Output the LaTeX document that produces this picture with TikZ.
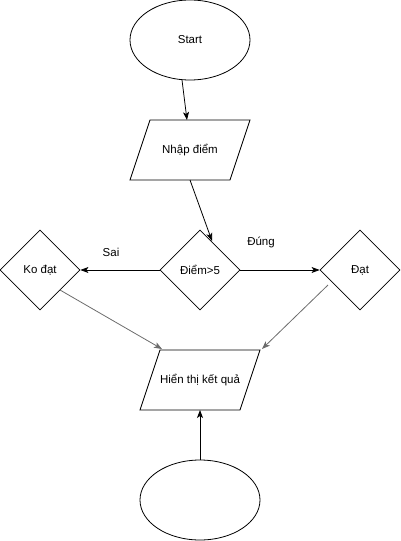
\documentclass[tikz,border=0pt]{standalone}
\usepackage{fontspec}
\setmainfont{Liberation Sans}
\usetikzlibrary{shapes.geometric,arrows.meta}
\begin{document}
\begin{tikzpicture}[x=1pt,y=-1pt,
  every node/.style={font=\fontsize{11.5}{14}\selectfont},
  shp/.style={draw=black,line width=0.8pt},
  oval/.style={shp,ellipse,minimum width=120pt,minimum height=80pt,inner sep=0pt},
  dia/.style={shp,diamond,minimum width=80pt,minimum height=80pt,inner sep=0pt},
  lbl/.style={inner sep=0pt},
  arr/.style={line width=0.8pt,-{Stealth[length=8pt,width=6pt,inset=2pt]}},
  garr/.style={arr,draw=gray!85!black,color=gray!85!black}
]
\useasboundingbox (0,0) rectangle (401,541);
\node[oval] (start) at (190,40) {Start};
\node[lbl] (nhap) at (190,150) {Nhập điểm};
\draw[shp] (150,120) -- (250,120) -- (230,180) -- (130,180) -- cycle;
\node[dia] (diem) at (200,270) {Điểm>5};
\node[dia] (kodat) at (40,270) {Ko đạt};
\node[dia] (dat) at (360,270) {Đạt};
\node[lbl] (hien) at (200,380) {Hiển thị kết quả};
\draw[shp] (160,350) -- (260,350) -- (240,410) -- (140,410) -- cycle;
\node[oval] (end) at (200,500) {};
\node[lbl] (sai) at (111,252) {Sai};
\node[lbl] (dung) at (261,242) {Đúng};
\coordinate (s1) at (182,80);
\coordinate (s2) at (187,120);
\coordinate (n1) at (190,180);
\coordinate (n2) at (212,241);
\coordinate (k1) at (60,290);
\coordinate (h1) at (162,349);
\coordinate (d1) at (328,285);
\coordinate (h2) at (262,349);
\coordinate (h3) at (200,410);
\draw[arr] (s1) -- (s2);
\draw[arr] (n1) -- (n2);
\draw[arr] (diem.west) -- (kodat.east);
\draw[arr] (diem.east) -- (dat.west);
\draw[garr] (k1) -- (h1);
\draw[garr] (d1) -- (h2);
\draw[arr] (end.north) -- (h3);
\end{tikzpicture}
\end{document}
